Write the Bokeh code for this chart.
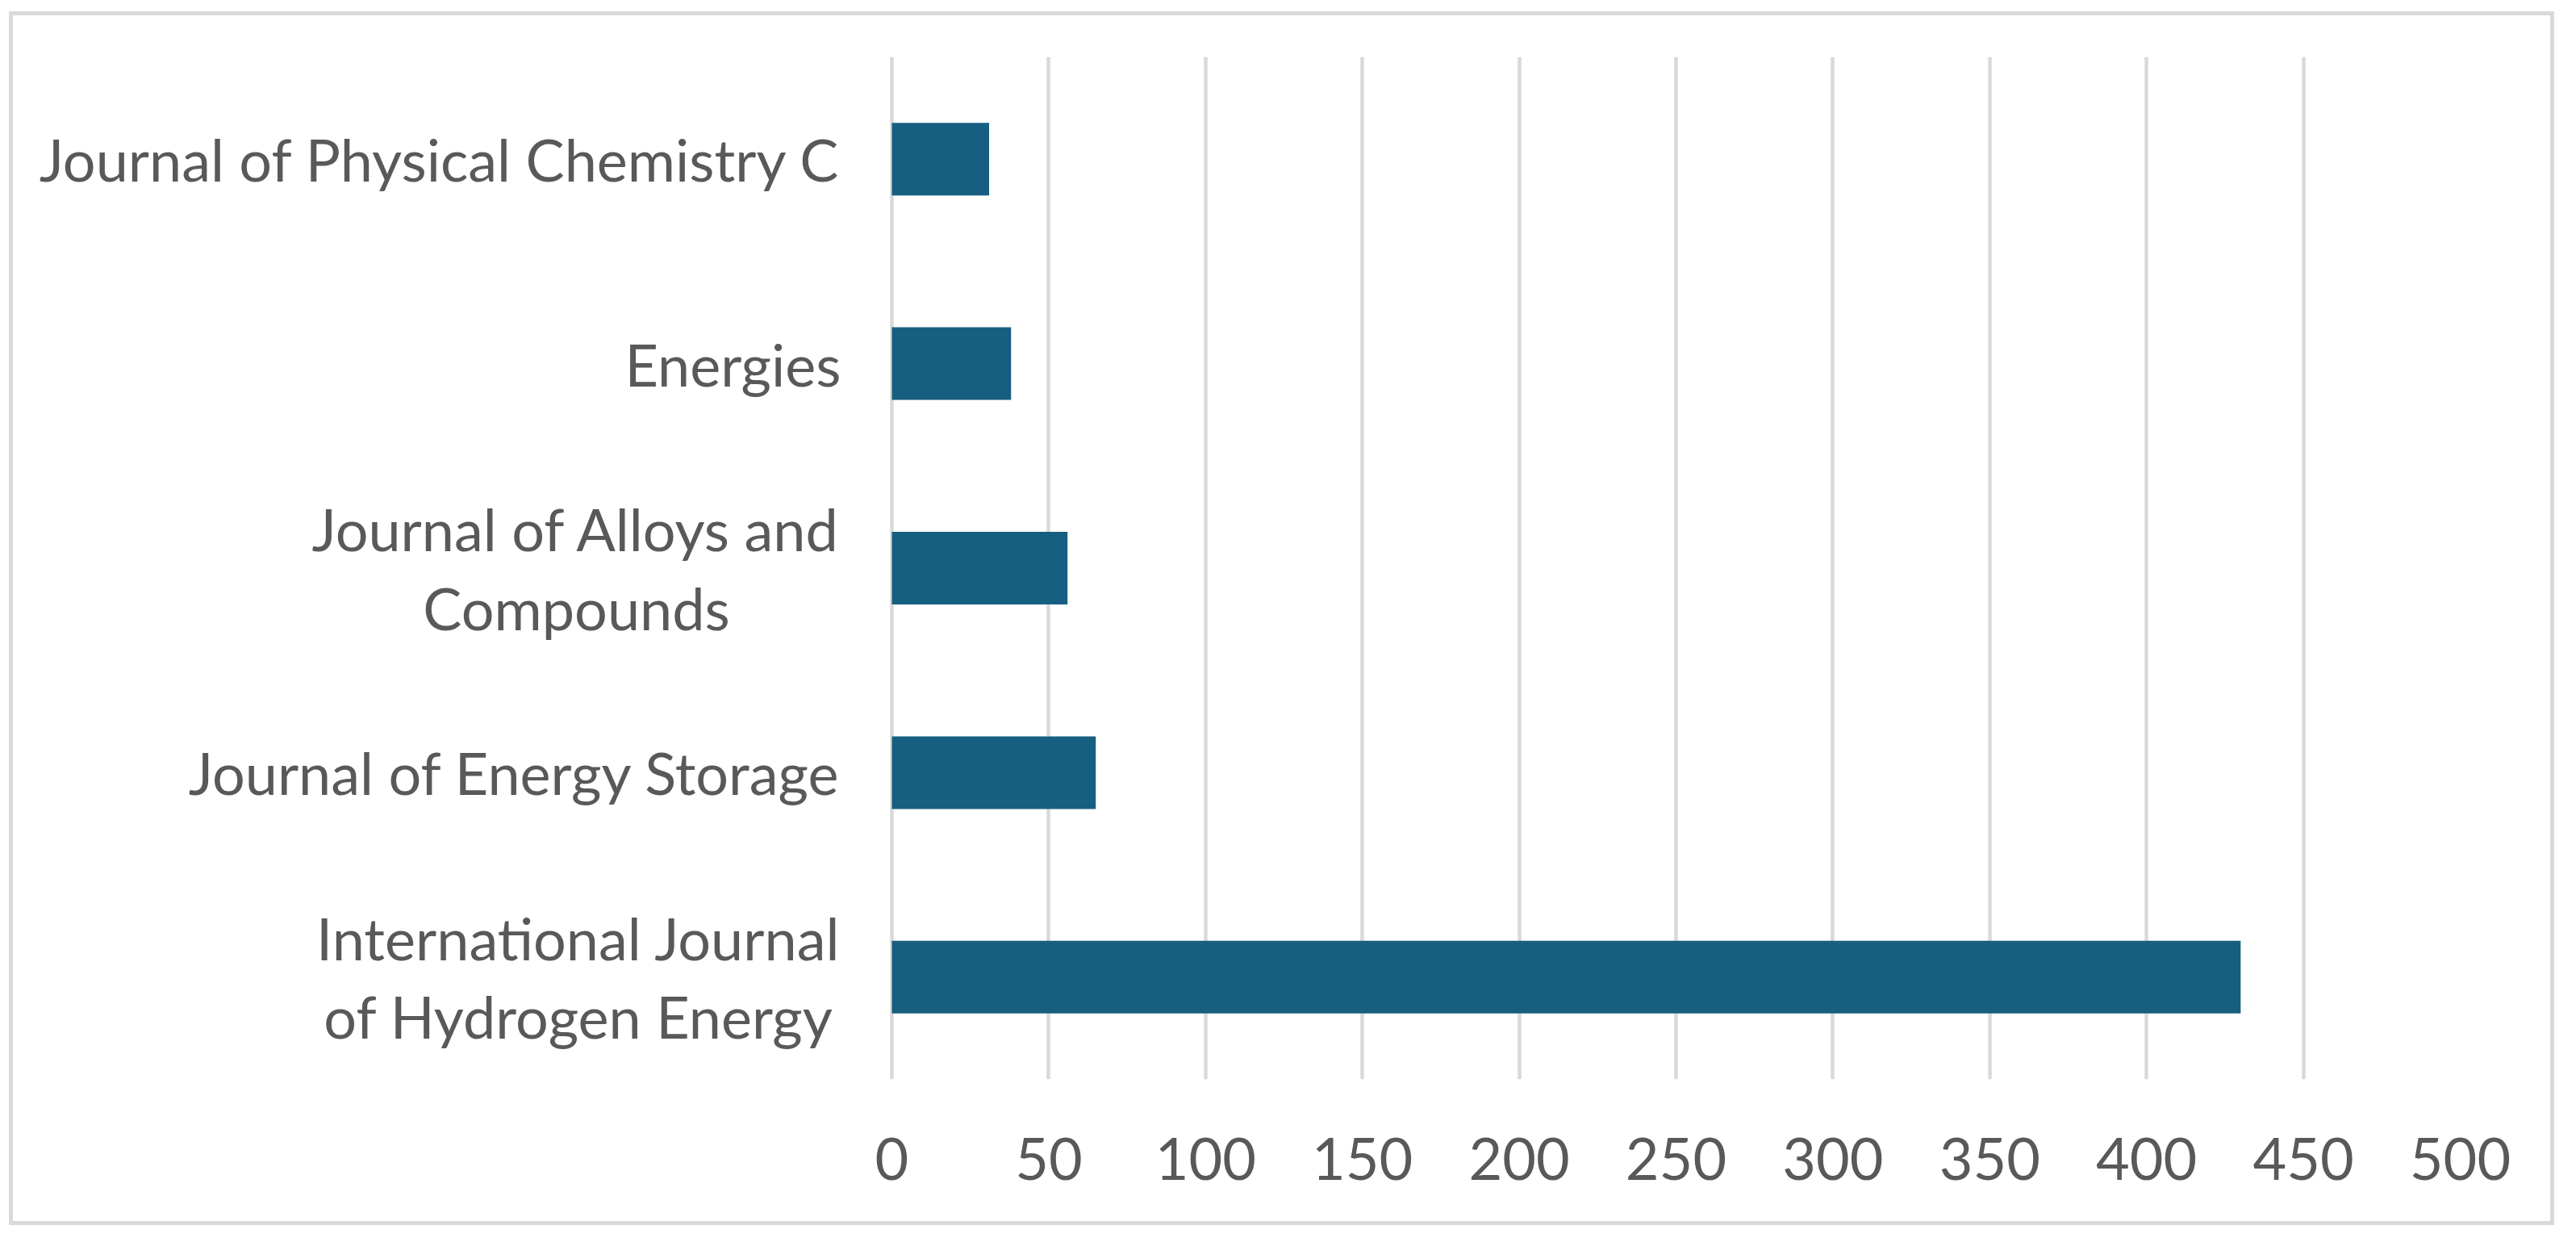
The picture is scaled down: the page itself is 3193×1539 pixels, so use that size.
from bokeh.plotting import figure
from bokeh.models import FactorRange, Range1d, FixedTicker
from bokeh.core.properties import value
from bokeh.embed import file_html
from bokeh.resources import INLINE

journals = [
    "International Journal\nof Hydrogen Energy",
    "Journal of Energy Storage",
    "Journal of Alloys and\nCompounds",
    "Energies",
    "Journal of Physical Chemistry C",
]
counts = [430, 65, 56, 38, 31]
xticks = [0, 50, 100, 150, 200, 250, 300, 350, 400, 450, 500]

FONT = "Lato"
TXT = "#595959"
GRID = "#D9D9D9"
BAR = "#175F80"

# layout (pixels): figure size, label column width, value-axis length
W, H = 3145, 1494
LABEL_W = 1089      # from figure left edge to the value 0 line
AXIS_W = 1944       # pixels covering 0..500
x_max = xticks[-1]
x_min = -LABEL_W * x_max / AXIS_W   # extend frame left so labels are inside it

p = figure(
    y_range=FactorRange(factors=journals, range_padding=0),
    x_range=Range1d(x_min, x_max),
    width=W, height=H,
    min_border_left=0, min_border_right=W - LABEL_W - AXIS_W,
    min_border_top=51, min_border_bottom=176,
    output_backend="svg", toolbar_location=None,
)
p.margin = (19, 0, 0, 16)
p.styles = {"outline": "5px solid #D9D9D9"}

p.hbar(y=journals, right=counts, left=0, height=0.355, color=BAR, line_color=None)

# category labels: right-anchored blocks with centred lines
p.text(x=[0] * len(journals), y=journals, text=journals,
       anchor=value("center_right"), text_align="center",
       x_offset=-63, text_font=value(FONT), text_font_size="72px",
       text_color=TXT, text_line_height=1.13)

p.outline_line_color = None
p.ygrid.grid_line_color = None
p.xgrid.grid_line_color = GRID
p.xgrid.grid_line_width = 4.5
p.xaxis.ticker = FixedTicker(ticks=xticks)
p.yaxis.visible = False

ax = p.xaxis[0]
ax.axis_line_color = None
ax.major_tick_line_color = None
ax.minor_tick_line_color = None
ax.major_label_text_font = FONT
ax.major_label_text_font_size = "72px"
ax.major_label_text_color = TXT
ax.major_label_standoff = 66

open("out.html", "w").write(file_html(p, INLINE))
